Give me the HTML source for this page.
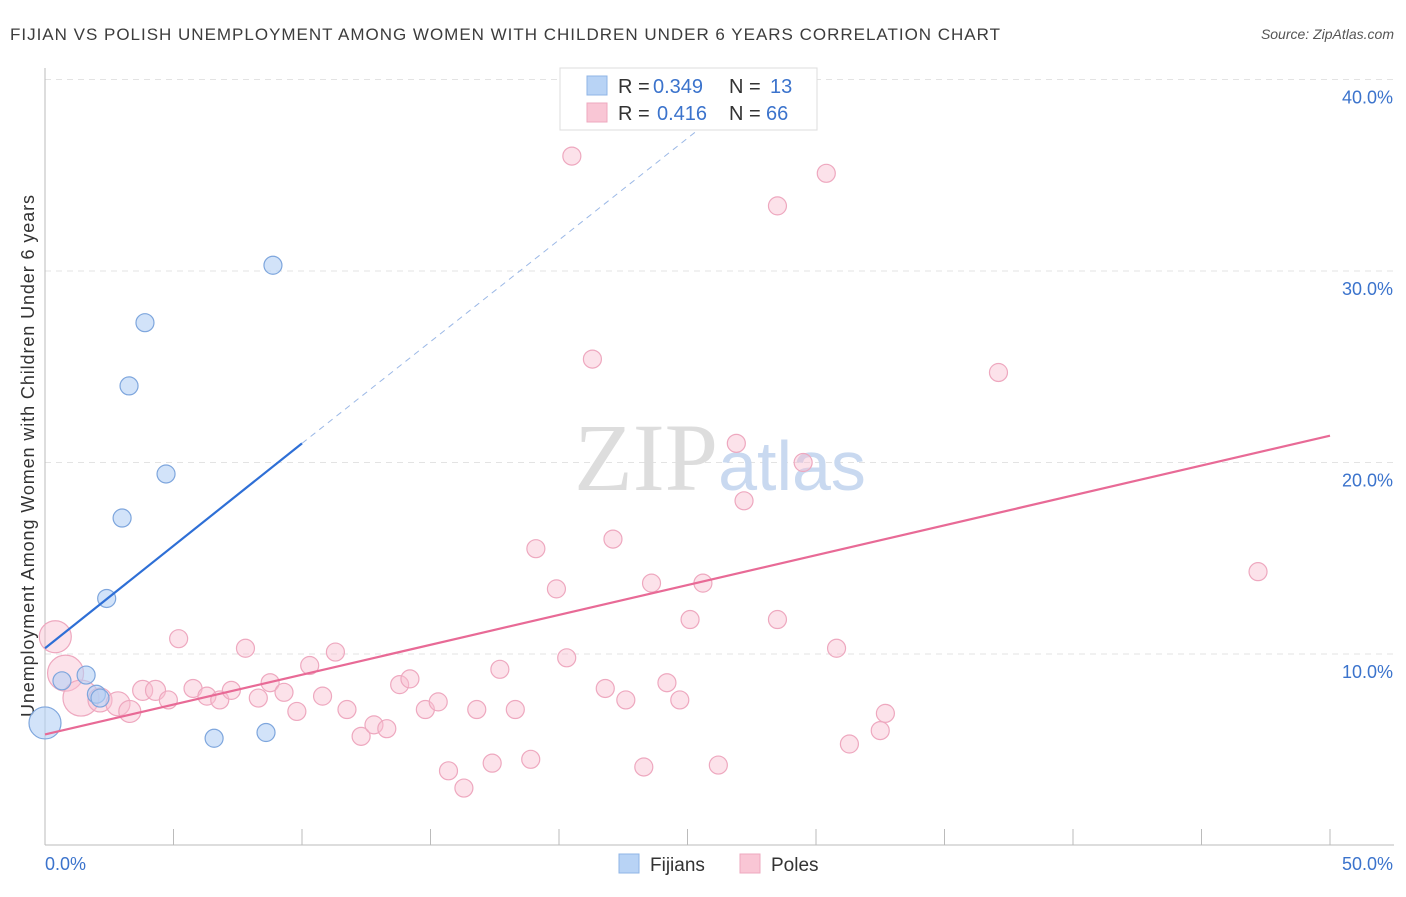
<!DOCTYPE html>
<html><head><meta charset="utf-8"><style>
body{margin:0;background:#fff;font-family:"Liberation Sans",sans-serif}
</style></head><body>
<svg id="c" width="1406" height="892" xmlns="http://www.w3.org/2000/svg">
<text x="10" y="40" font-size="17" fill="#3c3c3c" textLength="990">FIJIAN VS POLISH UNEMPLOYMENT AMONG WOMEN WITH CHILDREN UNDER 6 YEARS CORRELATION CHART</text>
<text x="1394" y="39" font-size="14" fill="#555" font-style="italic" text-anchor="end">Source: ZipAtlas.com</text>
<text x="34" y="456" font-size="18" fill="#333" text-anchor="middle" textLength="522" transform="rotate(-90 34 456)">Unemployment Among Women with Children Under 6 years</text>
<g id="grid"></g>
<text x="720" y="490" font-size="96" fill="#ddd" text-anchor="middle" font-family="Liberation Serif,serif">ZIP<tspan fill="#c9d9f0" font-family="Liberation Sans,sans-serif" font-size="70">atlas</tspan></text>
<g id="marks"></g>
<g>
<rect x="560" y="68" width="257" height="62" fill="#fff" stroke="#ddd"/>
<rect x="587" y="76" width="20" height="19" fill="#b8d3f5" stroke="#8fb4e6"/>
<rect x="587" y="103" width="20" height="19" fill="#f9c6d5" stroke="#eea8bf"/>
<text x="618" y="93" font-size="20" fill="#333">R =</text>
<text x="653" y="93" font-size="20" fill="#3b73cc">0.349</text>
<text x="729" y="93" font-size="20" fill="#333">N =</text>
<text x="770" y="93" font-size="20" fill="#3b73cc">13</text>
<text x="618" y="120" font-size="20" fill="#333">R =</text>
<text x="657" y="120" font-size="20" fill="#3b73cc">0.416</text>
<text x="729" y="120" font-size="20" fill="#333">N =</text>
<text x="766" y="120" font-size="20" fill="#3b73cc">66</text>
</g>
<g>
<rect x="619" y="854" width="20" height="19" fill="#b8d3f5" stroke="#8fb4e6"/>
<text x="650" y="871" font-size="19" fill="#333">Fijians</text>
<rect x="740" y="854" width="20" height="19" fill="#f9c6d5" stroke="#eea8bf"/>
<text x="771" y="871" font-size="19" fill="#333">Poles</text>
</g>
</svg>
<script>
const yTicks=[10,20,30,40];
const yTickLabels=["10.0%","20.0%","30.0%","40.0%"];
const fijX=[0,0.66,1.6,2.0,2.14,2.4,3.0,3.27,3.89,4.71,6.58,8.6,8.87];
const fijY=[6.4,8.6,8.9,7.9,7.7,12.9,17.1,24.0,27.3,19.4,5.6,5.9,30.3];
const fijR=[16,9,9,9,9,9,9,9,9,9,9,9,9];
const polX=[20.5,30.4,28.5,21.3,37.1,26.9,29.5,27.2,19.1,22.1,19.9,23.6,25.6,47.2,25.1,28.5,30.8,5.2,7.8,11.3,10.3,17.7,20.3,0.4,0.8,1.4,2.14,2.84,3.3,3.8,4.3,4.8,5.76,6.3,6.8,7.25,8.3,8.76,9.3,9.8,10.8,11.75,12.3,12.8,13.3,13.8,14.2,14.8,15.3,15.7,16.3,16.8,17.4,18.3,18.9,21.8,22.6,23.3,24.2,24.7,26.2,31.3,32.5,32.7];
const polY=[36.0,35.1,33.4,25.4,24.7,21.0,20.0,18.0,15.5,16.0,13.4,13.7,13.7,14.3,11.8,11.8,10.3,10.8,10.3,10.1,9.4,9.2,9.8,10.9,9.0,7.7,7.6,7.4,7.0,8.1,8.1,7.6,8.2,7.8,7.6,8.1,7.7,8.5,8.0,7.0,7.8,7.1,5.7,6.3,6.1,8.4,8.7,7.1,7.5,3.9,3.0,7.1,4.3,7.1,4.5,8.2,7.6,4.1,8.5,7.6,4.2,5.3,6.0,6.9];
const polR=[9,9,9,9,9,9,9,9,9,9,9,9,9,9,9,9,9,9,9,9,9,9,9,16,18,18,12,12,11,10,10,9,9,9,9,9,9,9,9,9,9,9,9,9,9,9,9,9,9,9,9,9,9,9,9,9,9,9,9,9,9,9,9,9];
const fijLine=[[0,10.3],[10,21.0]], fijDash=[[10,21.0],[27.7,39.8]];
const polLine=[[0,5.8],[50,21.4]];
const X=v=>45+v*25.7, Y=v=>845.5-v*19.15;
const NS="http://www.w3.org/2000/svg";
function mk(t,a,p){const e=document.createElementNS(NS,t);for(const k in a)e.setAttribute(k,a[k]);p.appendChild(e);return e;}
const g=document.getElementById('grid'),m=document.getElementById('marks');
yTicks.forEach((t,i)=>{
 const l=mk('line',{x1:45,x2:1394,y1:Y(t),y2:Y(t),stroke:'#e3e3e3','stroke-dasharray':'6,5'},g);
 
 
 const tx=mk('text',{x:1393,y:Y(t)+24,'font-size':18,fill:'#3b73cc','text-anchor':'end'},g);tx.textContent=yTickLabels[i];
 
 
});
mk('line',{x1:45,x2:1394,y1:845,y2:845,stroke:'#bbb'},g);
mk('line',{x1:45,x2:45,y1:68,y2:845,stroke:'#bbb'},g);
for(let i=0;i<=10;i++){const l=mk('line',{x1:X(i*5),x2:X(i*5),y1:829,y2:845,stroke:'#bbb'},g);
 
 }
const a=mk('text',{x:45,y:870,'font-size':18,fill:'#3b73cc'},g);a.textContent='0.0%';


const b=mk('text',{x:1393,y:870,'font-size':18,fill:'#3b73cc','text-anchor':'end'},g);b.textContent='50.0%';


polX.forEach((v,i)=>{const c=mk('circle',{cx:X(v),cy:Y(polY[i]),r:polR[i],fill:'rgba(248,190,208,0.45)',stroke:'#eea8bf','stroke-width':1.2},m);
 
 });
fijX.forEach((v,i)=>{const c=mk('circle',{cx:X(v),cy:Y(fijY[i]),r:fijR[i],fill:'rgba(180,208,245,0.6)',stroke:'#7ea6dd','stroke-width':1.2},m);
 
 });
const l1=mk('line',{x1:X(fijLine[0][0]),y1:Y(fijLine[0][1]),x2:X(fijLine[1][0]),y2:Y(fijLine[1][1]),stroke:'#2e6fd6','stroke-width':2.2},m);


const l2=mk('line',{x1:X(fijDash[0][0]),y1:Y(fijDash[0][1]),x2:X(fijDash[1][0]),y2:Y(fijDash[1][1]),stroke:'#9bb8e6','stroke-width':1,'stroke-dasharray':'6,5'},m);


const l3=mk('line',{x1:X(polLine[0][0]),y1:Y(polLine[0][1]),x2:X(polLine[1][0]),y2:Y(polLine[1][1]),stroke:'#e86a96','stroke-width':2.2},m);


</script>
</body></html>
